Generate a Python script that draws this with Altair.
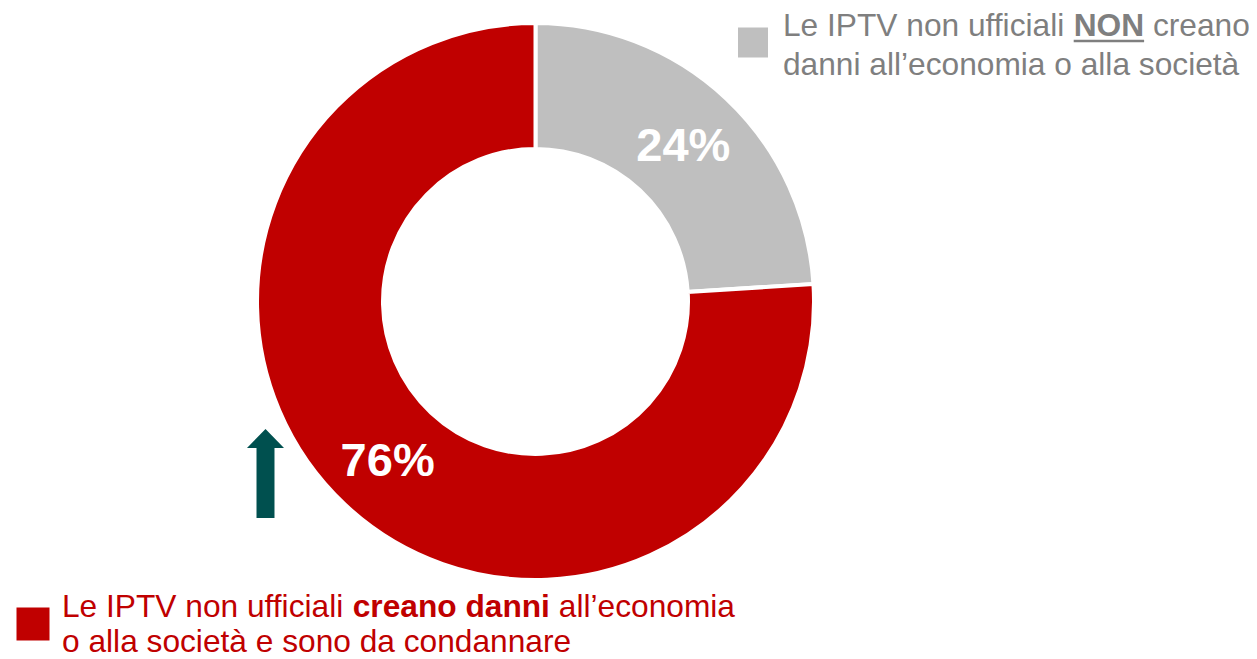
import altair as alt
import pandas as pd

# Data
categories = ["NON creano danni", "Creano danni"]
values = [24, 76]
labels = ["24%", "76%"]
order = [0, 1]
colors = ["#BFBFBF", "#C00000"]

legend_top = ["Le IPTV non ufficiali", "NON", "creano", "danni all\u2019economia o alla società"]
legend_bottom = ["Le IPTV non ufficiali", "creano danni", "all\u2019economia", "o alla società e sono da condannare"]

df = pd.DataFrame({"cat": categories, "val": values, "lab": labels, "ord": order})

FONT = "Liberation Sans"
CX, CY = 527.5, 293.5
W, H = 1241, 651

base = alt.Chart(df).encode(
    theta=alt.Theta("val:Q", stack=True),
    order=alt.Order("ord:Q"),
)

arcs = base.mark_arc(outerRadius=278.5, innerRadius=152.5, stroke="white", strokeWidth=4).encode(
    color=alt.Color("cat:N", scale=alt.Scale(domain=categories, range=colors), legend=None),
    x=alt.value(CX), y=alt.value(CY),
)

pct = base.mark_text(radius=216, font=FONT, fontSize=47, fontWeight="bold", color="white",
                     align="center", baseline="middle", dy=3).encode(
    text="lab:N", x=alt.value(CX), y=alt.value(CY),
)

one = pd.DataFrame({"k": [0]})


def seg(text, x, y, size, color, bold=False):
    return alt.Chart(one).mark_text(
        text=text, font=FONT, fontSize=size, fontWeight="bold" if bold else "normal",
        color=color, align="left", baseline="alphabetic"
    ).encode(x=alt.value(x), y=alt.value(y))


FS = 31.7
GRAY_T = "#7F7F7F"
RED_T = "#C00000"

top_layers = [
    seg(legend_top[0], 775, 28, FS, GRAY_T),
    seg(legend_top[1], 1065.7, 28, FS, GRAY_T, True),
    seg(legend_top[2], 1144.9, 28, FS, GRAY_T),
    seg(legend_top[3], 775, 67, FS, GRAY_T),
]
underline = alt.Chart(one).mark_rule(color=GRAY_T, strokeWidth=2.5).encode(
    x=alt.value(1065.7), x2=alt.value(1136.1), y=alt.value(33)
)
bottom_layers = [
    seg(legend_bottom[0], 54, 609, FS, RED_T),
    seg(legend_bottom[1], 344.7, 609, FS, RED_T, True),
    seg(legend_bottom[2], 550.8, 609, FS, RED_T),
    seg(legend_bottom[3], 54, 644, FS, RED_T),
]

sq_top = alt.Chart(one).mark_square(color=colors[0], opacity=1, size=30 * 30).encode(
    x=alt.value(745), y=alt.value(34.5)
)
sq_bot = alt.Chart(one).mark_square(color=colors[1], opacity=1, size=33 * 33).encode(
    x=alt.value(25), y=alt.value(616)
)

arrow_path = "M0,-1 L0.416,-0.573 L0.202,-0.573 L0.202,1 L-0.202,1 L-0.202,-0.573 L-0.416,-0.573 Z"
arrow = alt.Chart(one).mark_point(shape=arrow_path, filled=True, color="#00504F", opacity=1,
                                  size=89 * 89, strokeWidth=0).encode(
    x=alt.value(257.5), y=alt.value(465.5)
)

chart = alt.layer(arcs, pct, *top_layers, underline, *bottom_layers, sq_top, sq_bot, arrow).properties(
    width=W, height=H, autosize=alt.AutoSizeParams(type="none"), padding=0
).configure_view(stroke=None)

chart.save("out.html", embed_options={"renderer": "svg", "actions": False})
